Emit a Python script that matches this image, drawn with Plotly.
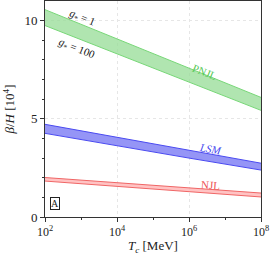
import plotly.graph_objects as go

T = [1e2, 1e4, 1e6, 1e8]
pnjl_hi = [10.56, 9.08, 7.60, 6.09]
pnjl_lo = [9.75, 8.30, 6.85, 5.43]
lsm_hi = [4.72, 4.05, 3.38, 2.74]
lsm_lo = [4.26, 3.62, 3.00, 2.39]
njl_hi = [2.01, 1.74, 1.48, 1.22]
njl_lo = [1.83, 1.56, 1.29, 1.02]

FONT = "Liberation Serif, DejaVu Serif, serif"
fig = go.Figure()

def band(lo, hi, line, fill):
    fig.add_trace(go.Scatter(x=T, y=lo, mode="lines", line=dict(color=line, width=1), showlegend=False, hoverinfo="skip"))
    fig.add_trace(go.Scatter(x=T, y=hi, mode="lines", line=dict(color=line, width=1), fill="tonexty", fillcolor=fill, showlegend=False, hoverinfo="skip"))

band(pnjl_lo, pnjl_hi, "#77d777", "rgba(150,220,150,0.75)")
band(lsm_lo, lsm_hi, "#4a4af0", "rgba(130,130,245,0.85)")
band(njl_lo, njl_hi, "#f06666", "rgba(255,180,180,0.8)")

anns = [
    dict(x=3.03, y=10.15, text="<i>g</i><sub>*</sub> = 1", textangle=22, color="#111111"),
    dict(x=2.89, y=8.58, text="<i>g</i><sub>*</sub> = 100", textangle=22, color="#111111"),
    dict(x=6.44, y=7.36, text="PNJL", textangle=22, color="#55c855"),
    dict(x=6.61, y=3.45, text="<i>LSM</i>", textangle=10, color="#4444ee"),
    dict(x=6.61, y=1.62, text="NJL", textangle=4, color="#ee5555"),
]
for a in anns:
    fig.add_annotation(x=a["x"], y=a["y"], text=a["text"], textangle=a["textangle"], showarrow=False,
                       font=dict(family=FONT, size=11, color=a["color"]))
fig.add_annotation(x=2.29, y=0.71, text="A", showarrow=False, bordercolor="#222222", borderwidth=1, borderpad=0,
                   font=dict(family=FONT, size=10, color="#222222"))
fig.add_annotation(x=0.5, y=-0.135, xref="paper", yref="paper", yanchor="middle", showarrow=False,
                   text="<i>T</i><sub><i>c</i></sub> [MeV]", font=dict(family=FONT, size=13, color="#222"))

fig.update_xaxes(type="log", range=[2, 8], tickvals=[1e2, 1e4, 1e6, 1e8],
                 ticktext=["10<sup>2</sup>", "10<sup>4</sup>", "10<sup>6</sup>", "10<sup>8</sup>"],
                 ticks="outside", ticklen=4, tickcolor="#333", showline=True, linecolor="#333", linewidth=1, mirror=True,
                 showgrid=True, gridcolor="#e6e6e6", griddash="dot", gridwidth=1, zeroline=False,
                 minor=dict(tickvals=[1e3, 1e5, 1e7], ticks="outside", ticklen=2, tickcolor="#333", showgrid=False),
                 tickfont=dict(family=FONT, size=12, color="#222"), ticklabeloverflow="allow")
fig.update_yaxes(range=[0, 11], tickvals=[0, 5, 10], ticks="outside", ticklen=4, tickcolor="#333",
                 showline=True, linecolor="#333", linewidth=1, mirror=True,
                 showgrid=True, gridcolor="#e6e6e6", griddash="dot", gridwidth=1, zeroline=False,
                 minor=dict(tickvals=[1, 2, 3, 4, 6, 7, 8, 9], ticks="outside", ticklen=2, tickcolor="#333", showgrid=False),
                 tickfont=dict(family=FONT, size=13, color="#222"),
                 title=dict(text="<i>β</i>/<i>H</i> [10<sup>4</sup>]", font=dict(family=FONT, size=13, color="#222"), standoff=6))
fig.update_layout(width=270, height=258, margin=dict(l=45, r=9, t=1, b=41),
                  plot_bgcolor="white", paper_bgcolor="white")
fig.write_html("out.html", config={"displayModeBar": False},
               post_script="document.body.style.margin='0';document.body.style.padding='0';")
